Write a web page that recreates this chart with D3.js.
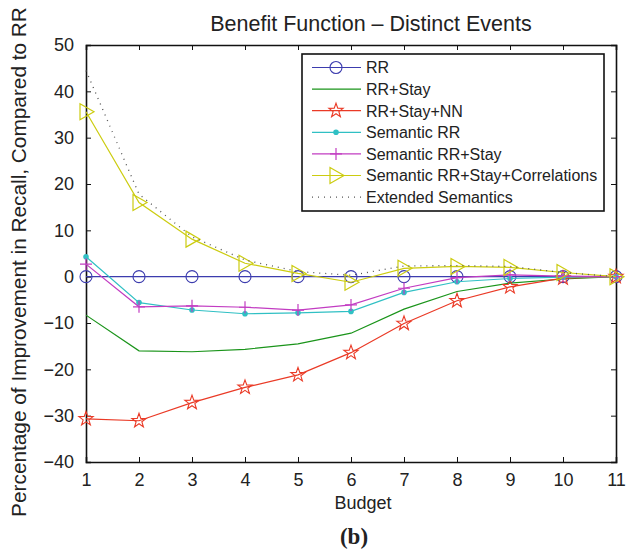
<!DOCTYPE html>
<html><head><meta charset="utf-8">
<script src="https://cdn.jsdelivr.net/npm/d3@7"></script>
<style>body{margin:0;background:#fff}svg{display:block}text{font-family:"Liberation Sans",Arial,sans-serif;fill:#222}</style>
</head><body><svg id="c" width="627" height="549"></svg>
<script>
const budgets = [1,2,3,4,5,6,7,8,9,10,11];
const rr = [0,0,0,0,0,0,0,0,0,0,0];
const rrStay = [-8.3,-16.0,-16.2,-15.7,-14.5,-12.2,-7.0,-3.2,-1.4,-0.5,0];
const rrStayNN = [-30.7,-31.1,-27.2,-23.9,-21.2,-16.4,-10.1,-5.2,-2.2,-0.3,0];
const semRR = [4.3,-5.6,-7.2,-8.0,-7.8,-7.5,-3.4,-1.1,-0.4,-0.1,0];
const semRRStay = [2.7,-6.5,-6.3,-6.6,-7.2,-6.1,-2.5,-0.2,0.4,0.1,0];
const semCorr = [35.6,16.0,8.1,2.9,0.7,-1.2,1.8,2.2,2.0,0.9,0];
const extSem = [44.5,17.8,8.6,3.6,1.1,0.3,2.3,2.4,2.2,0.9,0];
const yTicks = [-40,-30,-20,-10,0,10,20,30,40,50];
const seriesNames = ["RR","RR+Stay","RR+Stay+NN","Semantic RR","Semantic RR+Stay","Semantic RR+Stay+Correlations","Extended Semantics"];

const series = [
  {name:seriesNames[0], values:rr, color:"#3c3cae", marker:"circle"},
  {name:seriesNames[1], values:rrStay, color:"#1a941a", marker:"none"},
  {name:seriesNames[2], values:rrStayNN, color:"#ea3a26", marker:"star"},
  {name:seriesNames[3], values:semRR, color:"#30c0c4", marker:"dot"},
  {name:seriesNames[4], values:semRRStay, color:"#c23cc2", marker:"plus"},
  {name:seriesNames[5], values:semCorr, color:"#cccc10", marker:"tri"},
  {name:seriesNames[6], values:extSem, color:"#555", marker:"none", dotted:true}
];

const svg = d3.select("#c");
const L=86, R=616, T=45, B=462;
const x = d3.scaleLinear().domain([1,11]).range([L,R]);
const y = d3.scaleLinear().domain([-40,50]).range([B,T]);

// axes box
const g = svg.append("g");
g.append("g").attr("transform",`translate(0,${B})`).call(d3.axisBottom(x).tickValues(budgets).tickSize(-5).tickPadding(11).tickFormat(d3.format("d")));
g.append("g").attr("transform",`translate(0,${T})`).call(d3.axisTop(x).tickValues(budgets).tickSize(-5).tickFormat(""));
g.append("g").attr("transform",`translate(${L},0)`).call(d3.axisLeft(y).tickValues(yTicks).tickSize(-5).tickPadding(12).tickFormat(d=>d<0?"\u2212"+Math.abs(d):d));
g.append("g").attr("transform",`translate(${R},0)`).call(d3.axisRight(y).tickValues(yTicks).tickSize(-5).tickFormat(""));
g.selectAll(".domain").attr("stroke","#111").attr("stroke-width",1.6);
g.selectAll(".tick line").attr("stroke","#111");
g.selectAll(".tick text").attr("font-size",18).attr("fill","#222").attr("font-family","Liberation Sans, Arial, sans-serif");

function drawMarker(sel, type, color, px, py){
  if(type==="circle") sel.append("circle").attr("cx",px).attr("cy",py).attr("r",6).attr("fill","none").attr("stroke",color).attr("stroke-width",1.1);
  else if(type==="dot") sel.append("circle").attr("cx",px).attr("cy",py).attr("r",2.8).attr("fill",color);
  else if(type==="plus") sel.append("path").attr("d",`M${px-6},${py}H${px+6}M${px},${py-6}V${py+6}`).attr("stroke",color).attr("stroke-width",1.2);
  else if(type==="tri") sel.append("path").attr("d",`M${px-6},${py-8}L${px+8},${py}L${px-6},${py+8}Z`).attr("fill","none").attr("stroke",color).attr("stroke-width",1.2);
  else if(type==="star"){
    const pts=[];
    for(let i=0;i<10;i++){const a=-Math.PI/2+i*Math.PI/5; const r=i%2?3:7.5; pts.push([px+r*Math.cos(a),py+r*Math.sin(a)]);}
    sel.append("path").attr("d","M"+pts.map(p=>p.join(",")).join("L")+"Z").attr("fill","none").attr("stroke",color).attr("stroke-width",1.1);
  }
}

const line = d3.line().x((d,i)=>x(budgets[i])).y(d=>y(d));
const plot = svg.append("g");
series.forEach(s=>{
  plot.append("path").datum(s.values).attr("d",line).attr("fill","none").attr("stroke",s.color)
    .attr("stroke-width",s.dotted?1.3:1.2).attr("stroke-dasharray",s.dotted?"1,5":null);
  if(s.marker!=="none") s.values.forEach((v,i)=>drawMarker(plot,s.marker,s.color,x(budgets[i]),y(v)));
});

// legend
const lg = svg.append("g");
lg.append("rect").attr("x",302).attr("y",54).attr("width",302).attr("height",157).attr("fill","#fff").attr("stroke","#111").attr("stroke-width",1.6);
series.forEach((s,i)=>{
  const ly = 67.5 + i*21.6;
  lg.append("line").attr("x1",312).attr("x2",361).attr("y1",ly).attr("y2",ly).attr("stroke",s.color).attr("stroke-width",1.2).attr("stroke-dasharray",s.dotted?"1,5":null);
  if(s.marker!=="none") drawMarker(lg,s.marker,s.color,336,ly);
  lg.append("text").attr("x",366).attr("y",ly+5.8).attr("font-size",16).text(s.name);
});

// titles
svg.append("text").attr("x",371).attr("y",31).attr("text-anchor","middle").attr("font-size",21.5).text("Benefit Function \u2013 Distinct Events");
svg.append("text").attr("x",363).attr("y",509).attr("text-anchor","middle").attr("font-size",18).text("Budget");
svg.append("text").attr("transform",`translate(26,262) rotate(-90)`).attr("text-anchor","middle").attr("font-size",20.8).text("Percentage of Improvement in Recall, Compared to RR");
svg.append("text").attr("x",354).attr("y",544).attr("text-anchor","middle").attr("font-size",23).attr("font-weight","bold").style("font-family","Liberation Serif, Times New Roman, serif").text("(b)");
</script></body></html>
